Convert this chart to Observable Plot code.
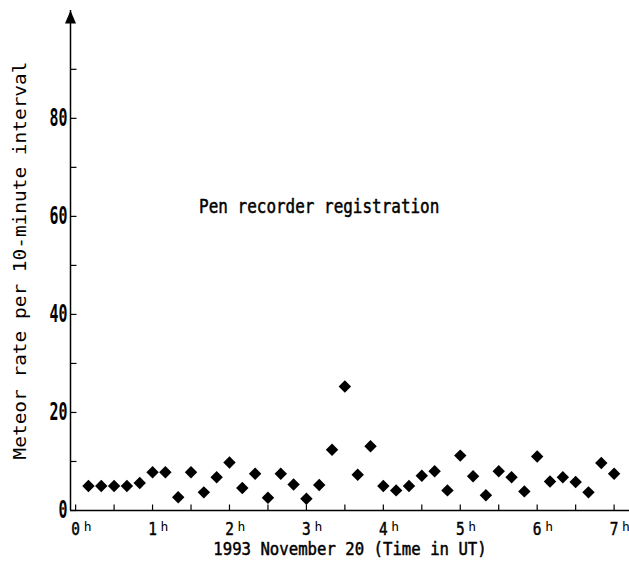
<!DOCTYPE html>
<html>
<head>
<meta charset="utf-8">
<script src="https://cdn.jsdelivr.net/npm/d3@7"></script>
<script src="https://cdn.jsdelivr.net/npm/@observablehq/plot@0.6"></script>
<style>
  html, body { margin: 0; padding: 0; background: #fff; }
</style>
</head>
<body>
<div id="chart"></div>
<script>
// Time of each 10-minute interval (minutes after 0h UT, 1993 Nov 20)
const times = [10, 20, 30, 40, 50, 60, 70, 80, 90, 100, 110, 120, 130, 140,
  150, 160, 170, 180, 190, 200, 210, 220, 230, 240, 250, 260, 270, 280,
  290, 300, 310, 320, 330, 340, 350, 360, 370, 380, 390, 400, 410, 420];
// Meteor rate per 10-minute interval
const rates = [5, 5, 5, 5, 5.6, 7.8, 7.8, 2.7, 7.8, 3.7, 6.8, 9.8, 4.6, 7.5,
  2.6, 7.5, 5.3, 2.4, 5.2, 12.4, 25.3, 7.3, 13.1, 5.0, 4.1, 5.0, 7.1, 8.0,
  4.1, 11.2, 7.0, 3.1, 8.0, 6.8, 3.9, 11.0, 5.9, 6.8, 5.8, 3.7, 9.7, 7.5];

const xDomain = [-4, 432];
const yDomain = [0, 102];
const xTickMinutes = [0, 30, 60, 90, 120, 150, 180, 210, 240, 270, 300, 330, 360, 390, 420];
const hourTicks = [0, 60, 120, 180, 240, 300, 360, 420];
const hourLabels = ["0", "1", "2", "3", "4", "5", "6", "7"];
const yTickValues = [0, 10, 20, 30, 40, 50, 60, 70, 80, 90];
const yLabelValues = [0, 20, 40, 60, 80];
const yLabelTexts = ["0", "20", "40", "60", "80"];
const title = "Pen recorder registration";
const titlePos = {x: 190, y: 62};
const xAxisTitle = "1993 November 20 (Time in UT)";
const yAxisTitle = "Meteor rate per 10-minute interval";

const data = times.map((t, i) => ({t, rate: rates[i]}));
const font = "DejaVu Sans Mono";

// glyphs (shapes only)
const arrowHead = {draw(ctx) { ctx.moveTo(0, 0); ctx.lineTo(-5.5, 13); ctx.lineTo(5.5, 13); ctx.closePath(); }};
const tickRight = {draw(ctx) { ctx.moveTo(0, 0); ctx.lineTo(6, 0); }};
const tickUp = {draw(ctx) { ctx.moveTo(0, 0); ctx.lineTo(0, -6); }};

const plot = Plot.plot({
  width: 629,
  height: 564,
  marginLeft: 70,
  marginRight: 0,
  marginTop: 10,
  marginBottom: 54,
  style: {fontFamily: font, background: "#fff", color: "#000"},
  x: {domain: xDomain, axis: null},
  y: {domain: yDomain, axis: null},
  marks: [
    Plot.ruleX([xDomain[0]], {y1: yDomain[0], y2: yDomain[1], stroke: "#000", strokeWidth: 1.5}),
    Plot.ruleY([yDomain[0]], {stroke: "#000", strokeWidth: 1.5}),
    Plot.dot([yDomain[1]], {x: () => xDomain[0], y: d => d, symbol: arrowHead, fill: "#000", stroke: "none"}),
    Plot.dot(yTickValues, {x: () => xDomain[0], y: d => d, symbol: tickRight, stroke: "#000", fill: "none", strokeWidth: 1.2}),
    Plot.dot(xTickMinutes, {x: d => d, y: () => yDomain[0], symbol: tickUp, stroke: "#000", fill: "none", strokeWidth: 1.2}),
    Plot.text(yLabelValues, {x: () => xDomain[0], y: d => d, text: (d, i) => yLabelTexts[i], textAnchor: "end", dx: -3,
      fontSize: 24, fontWeight: "bold", fill: "#000", ariaDescription: "ylab"}),
    Plot.text(hourTicks, {x: d => d, y: () => yDomain[0], text: (d, i) => hourLabels[i], textAnchor: "middle", dy: 19,
      fontSize: 18, fill: "#000", stroke: "#000", strokeWidth: 0.5, ariaDescription: "xlab"}),
    Plot.text(hourTicks, {x: d => d, y: () => yDomain[0], text: () => "h", textAnchor: "start", dx: 8, dy: 16,
      fontSize: 13, fill: "#000"}),
    Plot.text([xAxisTitle], {frameAnchor: "bottom", text: d => d, dy: 44, fontSize: 18, fill: "#000",
      stroke: "#000", strokeWidth: 0.5, ariaDescription: "xtitle"}),
    Plot.text([yAxisTitle], {frameAnchor: "left", textAnchor: "middle", text: d => d, rotate: -90, dx: -50, fontSize: 18,
      fill: "#000", ariaDescription: "ytitle"}),
    Plot.text([title], {x: () => titlePos.x, y: () => titlePos.y, text: d => d, fontSize: 19, fill: "#000",
      stroke: "#000", strokeWidth: 0.5, ariaDescription: "ann"}),
    Plot.dot(data, {x: "t", y: "rate", symbol: "diamond2", r: 5.6, fill: "#000", stroke: "none"})
  ]
});

document.getElementById("chart").appendChild(plot);

function squeeze(svg, desc, sx) {
  svg.querySelectorAll(`g[aria-description="${desc}"] text`).forEach(t => {
    const len = t.getComputedTextLength();
    if (len > 0) {
      t.setAttribute("textLength", (len * sx).toFixed(2));
      t.setAttribute("lengthAdjust", "spacingAndGlyphs");
    }
  });
}
squeeze(plot, "ylab", 0.62);
squeeze(plot, "xlab", 0.8);
squeeze(plot, "xtitle", 0.87);
squeeze(plot, "ann", 0.84);
squeeze(plot, "ytitle", 1.08);
</script>
</body>
</html>
